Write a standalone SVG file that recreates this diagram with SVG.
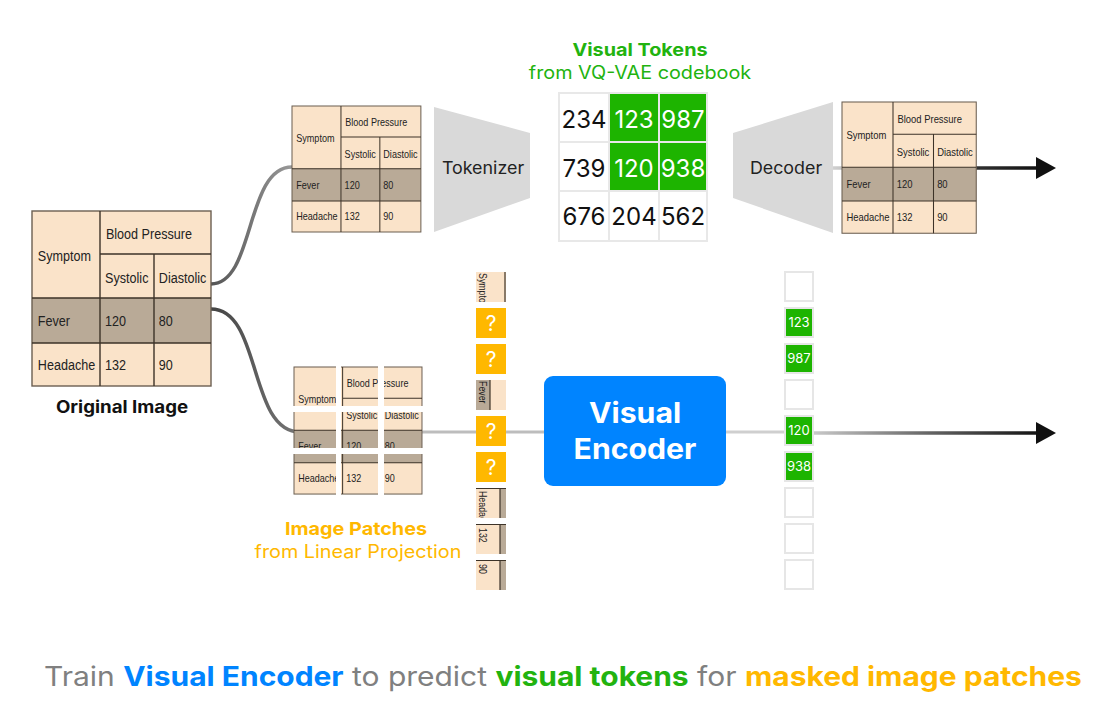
<svg xmlns="http://www.w3.org/2000/svg" width="1116" height="726" viewBox="0 0 1116 726">
<style>
.tt{font-family:"Liberation Sans",Arial,sans-serif;font-size:15px;fill:#222}
.tl{stroke:#3d3328;stroke-width:1.4;fill:none}
.ui{font-family:Inter,"Noto Sans",sans-serif;text-anchor:middle}
.num{font-family:Inter,"Noto Sans",sans-serif;font-size:24px;text-anchor:middle}
.cell{stroke:#e8e8e8;stroke-width:2}
.pt{font-family:"Liberation Sans",Arial,sans-serif;font-size:10.5px;fill:#222}
.q{font-family:Inter,"Noto Sans",sans-serif;font-size:21px;fill:#fff;text-anchor:middle}
.tk{font-family:Inter,"Noto Sans",sans-serif;font-size:13px;fill:#fff;text-anchor:middle}
.box{stroke:#e6e6e6;stroke-width:2}
</style>
<defs>
<g id="tbl">
<rect x="0" y="0" width="179" height="175" fill="#fae3c9"/>
<rect x="0" y="87" width="179" height="45" fill="#b9aa97"/>
<rect x="0" y="0" width="179" height="175" fill="none" stroke="#6b5f52" stroke-width="1.4"/>
<path class="tl" d="M68,0V175M122,43V175M68,43H179M0,87H179M0,132H179"/>
<g transform="scale(0.84,1)">
<text class="tt" x="88" y="28">Blood Pressure</text>
<text class="tt" x="7" y="50">Symptom</text>
<text class="tt" x="87" y="72">Systolic</text>
<text class="tt" x="151" y="72">Diastolic</text>
<text class="tt" x="7" y="115">Fever</text>
<text class="tt" x="87" y="115">120</text>
<text class="tt" x="151" y="115">80</text>
<text class="tt" x="7" y="159">Headache</text>
<text class="tt" x="87" y="159">132</text>
<text class="tt" x="151" y="159">90</text>
</g>
</g>
<clipPath id="pc"><rect x="0" y="0" width="30" height="30"/></clipPath>
<linearGradient id="gTop" gradientUnits="userSpaceOnUse" x1="833" y1="0" x2="1040" y2="0">
<stop offset="0" stop-color="#d0d0d0"/><stop offset="0.6" stop-color="#3a3a3a"/><stop offset="1" stop-color="#111"/>
</linearGradient>
<linearGradient id="gBot" gradientUnits="userSpaceOnUse" x1="814" y1="0" x2="1040" y2="0">
<stop offset="0" stop-color="#c8c8c8"/><stop offset="0.5" stop-color="#666"/><stop offset="1" stop-color="#111"/>
</linearGradient>
<linearGradient id="gC1" gradientUnits="userSpaceOnUse" x1="212" y1="0" x2="292" y2="0">
<stop offset="0" stop-color="#555"/><stop offset="1" stop-color="#999"/>
</linearGradient>
<linearGradient id="gC2" gradientUnits="userSpaceOnUse" x1="212" y1="0" x2="300" y2="0">
<stop offset="0" stop-color="#444"/><stop offset="1" stop-color="#777"/>
</linearGradient>
</defs>
<rect width="1116" height="726" fill="#fff"/>

<g id="connectors">
<path d="M211,284 C255,284 245,167 292,167" fill="none" stroke="url(#gC1)" stroke-width="3.5"/>
<path d="M211,309 C262,309 248,432 300,432" fill="none" stroke="url(#gC2)" stroke-width="3.5"/>
<line x1="298" y1="432" x2="545" y2="432" stroke="#bdbdbd" stroke-width="3"/>
<line x1="725" y1="432" x2="786" y2="432" stroke="#cfcfcf" stroke-width="3"/>
<line x1="812" y1="433" x2="1038" y2="433" stroke="url(#gBot)" stroke-width="3.5"/>
<polygon points="1036,422 1056,433 1036,444" fill="#111"/>
<line x1="830" y1="168" x2="1038" y2="168" stroke="url(#gTop)" stroke-width="3.5"/>
<polygon points="1036,157 1056,168 1036,179" fill="#111"/>
</g>

<g id="original-image">
<use href="#tbl" x="32" y="211"/>
<text class="ui" transform="translate(122,413) scale(1.1,1)" font-size="17" font-weight="700" fill="#111">Original Image</text>
</g>

<g id="table-top">
<use href="#tbl" transform="translate(292,106) scale(0.72)"/>
</g>

<g id="tokenizer">
<polygon points="434,107 530,133 530,198 434,232" fill="#d9d9d9"/>
<text class="ui" transform="translate(483,174) scale(1.05,1)" font-size="17" fill="#222">Tokenizer</text>
</g>

<g id="visual-tokens">
<text class="ui" transform="translate(640,56) scale(1.1,1)" font-size="18" font-weight="700" fill="#22b30f">Visual Tokens</text>
<text class="ui" transform="translate(640,79) scale(1.1,1)" font-size="18" fill="#22b30f">from VQ-VAE codebook</text>
<rect class="cell" x="559" y="93" width="50" height="49" fill="#fff"/>
<rect class="cell" x="609" y="93" width="50" height="49" fill="#1db400"/>
<rect class="cell" x="659" y="93" width="48" height="49" fill="#1db400"/>
<rect class="cell" x="559" y="142" width="50" height="49" fill="#fff"/>
<rect class="cell" x="609" y="142" width="50" height="49" fill="#1db400"/>
<rect class="cell" x="659" y="142" width="48" height="49" fill="#1db400"/>
<rect class="cell" x="559" y="191" width="50" height="50" fill="#fff"/>
<rect class="cell" x="609" y="191" width="50" height="50" fill="#fff"/>
<rect class="cell" x="659" y="191" width="48" height="50" fill="#fff"/>
<text class="num" x="584" y="128" fill="#111">234</text>
<text class="num" x="634" y="128" fill="#fff">123</text>
<text class="num" x="683" y="128" fill="#fff">987</text>
<text class="num" x="584" y="177" fill="#111">739</text>
<text class="num" x="634" y="177" fill="#fff">120</text>
<text class="num" x="683" y="177" fill="#fff">938</text>
<text class="num" x="584" y="225" fill="#111">676</text>
<text class="num" x="634" y="225" fill="#111">204</text>
<text class="num" x="683" y="225" fill="#111">562</text>
</g>

<g id="decoder">
<polygon points="733,133 833,102 833,233 733,198" fill="#d9d9d9"/>
<text class="ui" transform="translate(786,174) scale(1.05,1)" font-size="17" fill="#222">Decoder</text>
</g>

<g id="table-decoded">
<use href="#tbl" transform="translate(842,102) scale(0.75)"/>
</g>

<g id="patched-image">
<use href="#tbl" transform="translate(294,367) scale(0.715,0.726)"/>
<rect x="336" y="362" width="5" height="136" fill="#fff"/>
<rect x="378" y="362" width="6" height="136" fill="#fff"/>
<rect x="290" y="406" width="136" height="6" fill="#fff"/>
<rect x="290" y="448" width="136" height="6" fill="#fff"/>
<text class="ui" transform="translate(356,535) scale(1.1,1)" font-size="18" font-weight="700" fill="#ffb800">Image Patches</text>
<text class="ui" transform="translate(358,558) scale(1.1,1)" font-size="18" fill="#ffb800">from Linear Projection</text>
</g>

<g id="patch-column">
<g transform="translate(476,272)" clip-path="url(#pc)">
<rect width="30" height="30" fill="#fae3c9"/>
<line x1="29" y1="0" x2="29" y2="30" stroke="#3d3328" stroke-width="1.2"/>
<text class="pt" transform="translate(3,1) rotate(90) scale(0.84,1)">Symptom</text>
</g>
<rect x="476" y="308" width="30" height="30" fill="#ffb800"/><text class="q" x="491" y="331">?</text>
<rect x="476" y="344" width="30" height="30" fill="#ffb800"/><text class="q" x="491" y="367">?</text>
<g transform="translate(476,380)" clip-path="url(#pc)">
<rect width="30" height="30" fill="#fae3c9"/>
<rect width="14" height="30" fill="#b9aa97"/>
<line x1="14" y1="0" x2="14" y2="30" stroke="#3d3328" stroke-width="1.2"/>
<text class="pt" transform="translate(3,1) rotate(90) scale(0.84,1)">Fever</text>
</g>
<rect x="476" y="416" width="30" height="30" fill="#ffb800"/><text class="q" x="491" y="439">?</text>
<rect x="476" y="452" width="30" height="30" fill="#ffb800"/><text class="q" x="491" y="475">?</text>
<g transform="translate(476,488)" clip-path="url(#pc)">
<rect width="30" height="30" fill="#fae3c9"/>
<rect x="24" width="6" height="30" fill="#b9aa97"/>
<path d="M24,0V30M0,0.5H30" stroke="#3d3328" stroke-width="1.2" fill="none"/>
<text class="pt" transform="translate(3,3) rotate(90) scale(0.84,1)">Headache</text>
</g>
<g transform="translate(476,524)" clip-path="url(#pc)">
<rect width="30" height="30" fill="#fae3c9"/>
<rect x="24" width="6" height="30" fill="#b9aa97"/>
<path d="M24,0V30M0,0.5H30" stroke="#3d3328" stroke-width="1.2" fill="none"/>
<text class="pt" transform="translate(3,4) rotate(90) scale(0.84,1)">132</text>
</g>
<g transform="translate(476,560)" clip-path="url(#pc)">
<rect width="30" height="30" fill="#fae3c9"/>
<rect x="24" width="6" height="30" fill="#b9aa97"/>
<path d="M24,0V30M0,0.5H30" stroke="#3d3328" stroke-width="1.2" fill="none"/>
<text class="pt" transform="translate(3,4) rotate(90) scale(0.84,1)">90</text>
</g>
</g>

<g id="visual-encoder">
<rect x="544" y="376" width="182" height="110" rx="9" fill="#0084ff"/>
<text class="ui" transform="translate(635,423) scale(1.08,1)" font-size="28" font-weight="700" fill="#fff">Visual</text>
<text class="ui" transform="translate(635,459) scale(1.08,1)" font-size="28" font-weight="700" fill="#fff">Encoder</text>
</g>

<g id="token-column">
<rect class="box" x="785" y="272" width="28" height="29" fill="#fff"/>
<rect class="box" x="785" y="308" width="28" height="29" fill="#1db400"/><text class="tk" x="799" y="327">123</text>
<rect class="box" x="785" y="344" width="28" height="29" fill="#1db400"/><text class="tk" x="799" y="363">987</text>
<rect class="box" x="785" y="380" width="28" height="29" fill="#fff"/>
<rect class="box" x="785" y="416" width="28" height="29" fill="#1db400"/><text class="tk" x="799" y="435">120</text>
<rect class="box" x="785" y="452" width="28" height="29" fill="#1db400"/><text class="tk" x="799" y="471">938</text>
<rect class="box" x="785" y="488" width="28" height="29" fill="#fff"/>
<rect class="box" x="785" y="524" width="28" height="29" fill="#fff"/>
<rect class="box" x="785" y="560" width="28" height="29" fill="#fff"/>
</g>

<g id="caption">
<text class="ui" transform="translate(563,686) scale(1.11,1)" font-size="27" fill="#808080">Train <tspan font-weight="700" fill="#0084ff">Visual Encoder</tspan> to predict <tspan font-weight="700" fill="#22b30f">visual tokens</tspan> for <tspan font-weight="700" fill="#ffb800">masked image patches</tspan></text>
</g>
</svg>
